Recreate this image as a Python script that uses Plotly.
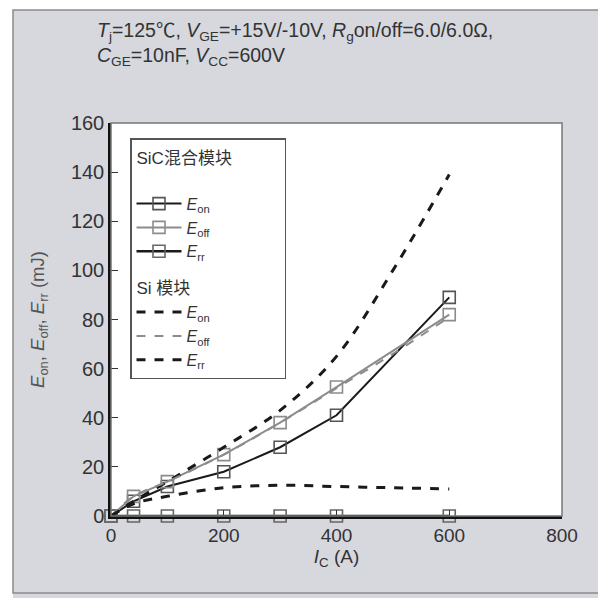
import plotly.graph_objects as go

# ---- data ----
ic_sic = [0, 40, 100, 200, 300, 400, 600]
sic_eon = [0, 6, 12, 18, 28, 41, 89]
sic_eoff = [0, 8, 14, 25, 38, 52.5, 82]
sic_err = [0, 0, 0, 0, 0, 0, 0]

ic_si = [0, 40, 100, 200, 300, 400, 500, 600]
si_eon = [0, 6, 14, 28, 43, 65, 100, 139]
si_eoff = [0, 8, 14, 25, 38, 52, 66, 81]
si_err = [0, 5, 8, 11.5, 12.5, 12, 11.5, 11]

FONT = "Liberation Sans, Noto Sans CJK SC, sans-serif"
TXT = "#333333"
SHEET = "rgb(214,216,222)"

fig = go.Figure()

def sub(s):
    return "<i>E</i><sub>%s</sub>" % s

PAD = "&nbsp;" * 9

fig.add_trace(go.Scatter(x=ic_sic, y=sic_eon, mode="lines+markers", name=sub("on"),
    legendgroup="sic", legendgrouptitle=dict(text="SiC混合模块" + PAD + "<br>&nbsp;"),
    line=dict(color="#1a1a1a", width=2),
    marker=dict(symbol="square-open", size=12, color="#555", line=dict(width=1.6)),
    cliponaxis=False))
fig.add_trace(go.Scatter(x=ic_sic, y=sic_eoff, mode="lines+markers", name=sub("off"),
    legendgroup="sic",
    line=dict(color="#8c8c8c", width=2),
    marker=dict(symbol="square-open", size=12, color="#8c8c8c", line=dict(width=1.6)),
    cliponaxis=False))
fig.add_trace(go.Scatter(x=ic_sic, y=sic_err, mode="lines+markers", name=sub("rr"),
    legendgroup="sic",
    line=dict(color="#1a1a1a", width=2.5),
    marker=dict(symbol="square-open", size=12, color="#666", line=dict(width=1.6)),
    cliponaxis=False))

fig.add_trace(go.Scatter(x=ic_si, y=si_eon, mode="lines", name=sub("on"),
    legendgroup="si", legendgrouptitle=dict(text="Si 模块"),
    line=dict(color="#1a1a1a", width=3, dash="dash", shape="spline"),
    cliponaxis=False))
fig.add_trace(go.Scatter(x=ic_si, y=si_eoff, mode="lines", name=sub("off"),
    legendgroup="si",
    line=dict(color="#8c8c8c", width=2, dash="dash", shape="spline"),
    cliponaxis=False))
fig.add_trace(go.Scatter(x=ic_si, y=si_err, mode="lines", name=sub("rr"),
    legendgroup="si",
    line=dict(color="#1a1a1a", width=3, dash="dash", shape="spline"),
    cliponaxis=False))

L, R, T, B = 111, 36, 123, 82
W = H = 598
pw, ph = W - L - R, H - T - B

def px(x):
    return (x - L) / pw

def py(y):
    return (H - B - y) / ph

fig.update_layout(
    template="none",
    width=W, height=H,
    margin=dict(l=L, r=R, t=T, b=B),
    paper_bgcolor=SHEET,
    plot_bgcolor="white",
    font=dict(family=FONT, color=TXT, size=16),
    title=dict(
        text="<i>T</i><sub>j</sub>=125℃, <i>V</i><sub>GE</sub>=+15V/-10V, <i>R</i><sub>g</sub>on/off=6.0/6.0Ω,<br>"
             "<i>C</i><sub>GE</sub>=10nF, <i>V</i><sub>CC</sub>=600V",
        x=97 / W, xanchor="left", xref="container",
        y=1 - 37 / H, yanchor="top", yref="container",
        font=dict(size=19.5, color=TXT, family=FONT),
    ),
    xaxis=dict(
        range=[0, 800], dtick=200, showgrid=False, zeroline=False,
        showline=True, linecolor="#111", linewidth=2.5,
        ticks="inside", ticklen=6, tickcolor="#333",
        tickfont=dict(size=19, color=TXT),
        title=dict(text="<i>I</i><sub>C</sub> (A)", standoff=0, font=dict(size=19, color=TXT)),
    ),
    yaxis=dict(
        range=[0, 160], dtick=20, showgrid=False, zeroline=False,
        showline=True, linecolor="#111", linewidth=2.5,
        ticks="inside", ticklen=7, tickcolor="#333",
        tickfont=dict(size=20, color=TXT),
        title=dict(text="<i>E</i><sub>on</sub>, <i>E</i><sub>off</sub>, <i>E</i><sub>rr</sub> (mJ)",
                   standoff=22, font=dict(size=18.5, color="#555")),
    ),
    legend=dict(
        x=px(130), y=py(138), xanchor="left", yanchor="top",
        bgcolor="white", bordercolor="#555", borderwidth=1.5,
        font=dict(size=16, color=TXT, family=FONT),
        grouptitlefont=dict(size=17, color=TXT, family=FONT),
        itemwidth=45, tracegroupgap=12,
    ),
    shapes=[
        # white page edge outside the grey sheet (left and top)
        dict(type="rect", xref="paper", yref="paper",
             x0=px(-5), x1=px(13), y0=py(605), y1=py(-5),
             fillcolor="white", line=dict(width=0), layer="above"),
        dict(type="rect", xref="paper", yref="paper",
             x0=px(-5), x1=px(605), y0=py(10), y1=py(-5),
             fillcolor="white", line=dict(width=0), layer="above"),
        # sheet frame
        dict(type="rect", xref="paper", yref="paper",
             x0=px(13), x1=px(603), y0=py(593), y1=py(10),
             line=dict(color="#8a8a8a", width=1.5), layer="above"),
        # thin top/right border of plot box
        dict(type="rect", xref="paper", yref="paper", x0=0, x1=1, y0=0, y1=1,
             line=dict(color="#777", width=1.5), layer="above"),
    ],
)

fig.write_html("out.html")
